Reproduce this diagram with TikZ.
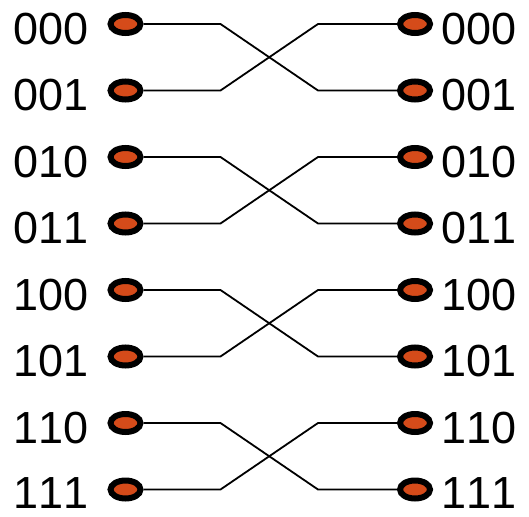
\documentclass[tikz,border=0pt]{standalone}
\usepackage{fontspec}
\setmainfont{Liberation Sans}[Kerning=Off]
\usetikzlibrary{positioning, shapes.geometric}
\definecolor{portfill}{RGB}{213,75,26}

\begin{document}
\begin{tikzpicture}[
  x=1pt, y=-1pt,
  port/.style = {ellipse, draw, line width=6pt, fill=portfill, minimum width=30pt, minimum height=18pt, inner sep=0pt},
  lbl/.style  = {inner sep=0pt, font=\fontsize{45}{54}\selectfont},
  wire/.style = {line width=1.8pt},
  ]
  \useasboundingbox (0,0) rectangle (529,516);
  % Input ports
  \node (L000) at (125.5, 24)   [port] {};
  \node (L001) at (125.5, 90.5) [port] {};
  \node (L010) at (125.5,157)   [port] {};
  \node (L011) at (125.5,223.5) [port] {};
  \node (L100) at (125.5,290)   [port] {};
  \node (L101) at (125.5,356.5) [port] {};
  \node (L110) at (125.5,423)   [port] {};
  \node (L111) at (125.5,489.5) [port] {};
  % Output ports
  \node (R000) at (415, 24)   [port] {};
  \node (R001) at (415, 90.5) [port] {};
  \node (R010) at (415,157)   [port] {};
  \node (R011) at (415,223.5) [port] {};
  \node (R100) at (415,290)   [port] {};
  \node (R101) at (415,356.5) [port] {};
  \node (R110) at (415,423)   [port] {};
  \node (R111) at (415,489.5) [port] {};

  % Addresses
  \node (tL000) [lbl, left=19pt of L000, yshift=-5pt] {000};
  \node (tL001) [lbl, left=19pt of L001, yshift=-5pt] {001};
  \node (tL010) [lbl, left=19pt of L010, yshift=-5pt] {010};
  \node (tL011) [lbl, left=19pt of L011, yshift=-5pt] {011};
  \node (tL100) [lbl, left=19pt of L100, yshift=-5pt] {100};
  \node (tL101) [lbl, left=19pt of L101, yshift=-5pt] {101};
  \node (tL110) [lbl, left=19pt of L110, yshift=-5pt] {110};
  \node (tL111) [lbl, left=19pt of L111, yshift=-4pt] {111};
  \node (tR000) [lbl, right=8pt of R000, yshift=-5pt] {000};
  \node (tR001) [lbl, right=8pt of R001, yshift=-5pt] {001};
  \node (tR010) [lbl, right=8pt of R010, yshift=-5pt] {010};
  \node (tR011) [lbl, right=8pt of R011, yshift=-5pt] {011};
  \node (tR100) [lbl, right=8pt of R100, yshift=-5pt] {100};
  \node (tR101) [lbl, right=8pt of R101, yshift=-5pt] {101};
  \node (tR110) [lbl, right=8pt of R110, yshift=-5pt] {110};
  \node (tR111) [lbl, right=8pt of R111, yshift=-4pt] {111};

  % Exchange wiring
  \draw[wire] (L000.east) -- ([xshift=77pt]L000.east) -- ([xshift=-79pt]R001.west) -- (R001.west);
  \draw[wire] (L001.east) -- ([xshift=77pt]L001.east) -- ([xshift=-79pt]R000.west) -- (R000.west);
  \draw[wire] (L010.east) -- ([xshift=77pt]L010.east) -- ([xshift=-79pt]R011.west) -- (R011.west);
  \draw[wire] (L011.east) -- ([xshift=77pt]L011.east) -- ([xshift=-79pt]R010.west) -- (R010.west);
  \draw[wire] (L100.east) -- ([xshift=77pt]L100.east) -- ([xshift=-79pt]R101.west) -- (R101.west);
  \draw[wire] (L101.east) -- ([xshift=77pt]L101.east) -- ([xshift=-79pt]R100.west) -- (R100.west);
  \draw[wire] (L110.east) -- ([xshift=77pt]L110.east) -- ([xshift=-79pt]R111.west) -- (R111.west);
  \draw[wire] (L111.east) -- ([xshift=77pt]L111.east) -- ([xshift=-79pt]R110.west) -- (R110.west);
\end{tikzpicture}
\end{document}
